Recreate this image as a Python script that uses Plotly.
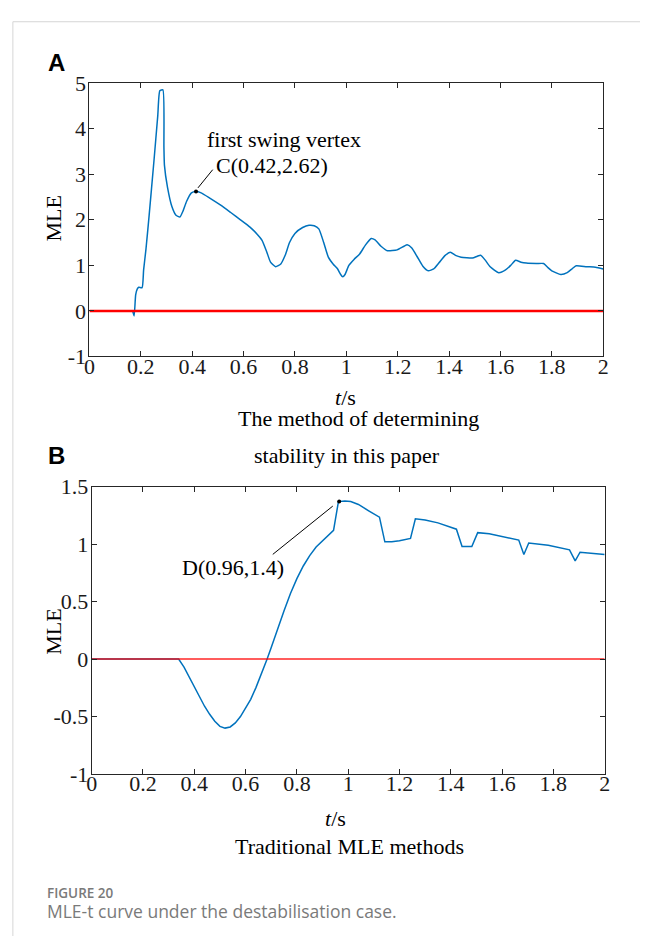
import plotly.graph_objects as go

# ---------------- data ----------------
# Panel A: proposed method (MLE vs t)
tA = [0.168, 0.174, 0.180, 0.186, 0.192, 0.205, 0.211, 0.220, 0.232, 0.251, 0.266, 0.274,
      0.286, 0.290, 0.292, 0.304, 0.321, 0.337, 0.352, 0.365, 0.378, 0.397, 0.415, 0.435,
      0.470, 0.511, 0.550, 0.588, 0.625, 0.652, 0.672, 0.690, 0.705, 0.725, 0.745, 0.762,
      0.779, 0.800, 0.830, 0.855, 0.875, 0.893, 0.912, 0.930, 0.950, 0.965, 0.978, 0.986,
      0.995, 1.010, 1.030, 1.052, 1.075, 1.097, 1.112, 1.135, 1.160, 1.198, 1.225, 1.237,
      1.255, 1.275, 1.298, 1.319, 1.340, 1.360, 1.385, 1.405, 1.425, 1.447, 1.491, 1.510,
      1.523, 1.540, 1.560, 1.593, 1.620, 1.640, 1.659, 1.680, 1.701, 1.740, 1.768, 1.785,
      1.800, 1.835, 1.860, 1.880, 1.895, 1.936, 1.970, 2.000]
mleA = [0.00, -0.11, 0.35, 0.48, 0.52, 0.51, 0.90, 1.35, 2.07, 3.28, 4.28, 4.83,
        4.85, 3.60, 3.20, 2.71, 2.29, 2.10, 2.06, 2.20, 2.40, 2.59, 2.62, 2.59,
        2.47, 2.32, 2.16, 2.00, 1.84, 1.69, 1.55, 1.30, 1.07, 0.97, 1.03, 1.22,
        1.50, 1.70, 1.83, 1.88, 1.87, 1.80, 1.50, 1.18, 1.02, 0.93, 0.80, 0.75,
        0.80, 1.00, 1.13, 1.25, 1.45, 1.59, 1.56, 1.42, 1.32, 1.34, 1.42, 1.45,
        1.38, 1.20, 0.98, 0.88, 0.92, 1.05, 1.22, 1.29, 1.22, 1.18, 1.16, 1.20,
        1.22, 1.12, 0.97, 0.84, 0.90, 1.00, 1.11, 1.07, 1.05, 1.04, 1.04, 0.95,
        0.88, 0.80, 0.84, 0.93, 0.99, 0.97, 0.96, 0.92]

# Panel B: traditional MLE method
tB = [0.000, 0.339, 0.360, 0.380, 0.400, 0.420, 0.440, 0.460, 0.480, 0.500, 0.520, 0.540,
      0.560, 0.580, 0.600, 0.620, 0.640, 0.660, 0.684, 0.700, 0.725, 0.750, 0.775, 0.800,
      0.825, 0.850, 0.875, 0.900, 0.925, 0.943, 0.962, 0.987, 1.010, 1.040, 1.080, 1.122,
      1.143, 1.170, 1.200, 1.243, 1.262, 1.300, 1.350, 1.422, 1.444, 1.482, 1.505, 1.550,
      1.665, 1.685, 1.704, 1.780, 1.863, 1.885, 1.904, 2.000]
mleB = [0.00, 0.00, -0.07, -0.155, -0.25, -0.33, -0.41, -0.48, -0.54, -0.585, -0.60, -0.59,
        -0.555, -0.50, -0.43, -0.35, -0.25, -0.14, 0.00, 0.10, 0.27, 0.42, 0.57, 0.70,
        0.81, 0.90, 0.975, 1.03, 1.08, 1.12, 1.37, 1.375, 1.37, 1.345, 1.29, 1.235,
        1.02, 1.02, 1.03, 1.05, 1.22, 1.21, 1.185, 1.13, 0.98, 0.98, 1.10, 1.09,
        1.035, 0.91, 1.01, 0.99, 0.95, 0.855, 0.93, 0.91]

zero_t = [0, 2]
zero_v = [0, 0]

# highlighted points and their leader lines
C_point = (0.415, 2.62)
D_point = (0.965, 1.37)
C_leader_t = [0.4225, 0.48]
C_leader_v = [2.70, 3.10]
D_leader_t = [0.706, 0.940]
D_leader_v = [0.911, 1.331]

x_ticks = [0, 0.2, 0.4, 0.6, 0.8, 1.0, 1.2, 1.4, 1.6, 1.8, 2.0]
x_labels = ["0", "0.2", "0.4", "0.6", "0.8", "1", "1.2", "1.4", "1.6", "1.8", "2"]
yA_ticks = [-1, 0, 1, 2, 3, 4, 5]
yA_labels = ["-1", "0", "1", "2", "3", "4", "5"]
yB_ticks = [-1, -0.5, 0, 0.5, 1, 1.5]
yB_labels = ["-1", "-0.5", "0", "0.5", "1", "1.5"]

# ---------------- figure ----------------
W, H = 646, 949


def px(x):
    return x / W


def py(y):
    return 1 - y / H


BLUE = "#0072BD"
RED = "#FF0000"
SERIF = "Liberation Serif, Times New Roman, serif"
SANS = "Liberation Sans, Arial, sans-serif"

fig = go.Figure()
fig.add_trace(go.Scatter(x=tA, y=mleA, mode="lines",
                         line=dict(color=BLUE, width=1.5, shape="spline", smoothing=0.5),
                         xaxis="x", yaxis="y", showlegend=False, hoverinfo="skip"))
fig.add_trace(go.Scatter(x=zero_t, y=zero_v, mode="lines", line=dict(color=RED, width=2.5),
                         xaxis="x", yaxis="y", showlegend=False, hoverinfo="skip"))
fig.add_trace(go.Scatter(x=C_leader_t, y=C_leader_v, mode="lines", line=dict(color="black", width=1),
                         xaxis="x", yaxis="y", showlegend=False, hoverinfo="skip"))
fig.add_trace(go.Scatter(x=[C_point[0]], y=[C_point[1]], mode="markers",
                         marker=dict(color="black", size=4), xaxis="x", yaxis="y",
                         showlegend=False, hoverinfo="skip"))

fig.add_trace(go.Scatter(x=tB, y=mleB, mode="lines", line=dict(color=BLUE, width=1.5),
                         xaxis="x2", yaxis="y2", showlegend=False, hoverinfo="skip"))
fig.add_trace(go.Scatter(x=zero_t, y=zero_v, mode="lines", line=dict(color=RED, width=1.5),
                         opacity=0.85, xaxis="x2", yaxis="y2", showlegend=False, hoverinfo="skip"))
fig.add_trace(go.Scatter(x=D_leader_t, y=D_leader_v, mode="lines", line=dict(color="black", width=1),
                         xaxis="x2", yaxis="y2", showlegend=False, hoverinfo="skip"))
fig.add_trace(go.Scatter(x=[D_point[0]], y=[D_point[1]], mode="markers",
                         marker=dict(color="black", size=4), xaxis="x2", yaxis="y2",
                         showlegend=False, hoverinfo="skip"))

axis_common = dict(showline=True, linecolor="#262626", linewidth=1, mirror="ticks",
                   ticks="inside", ticklen=5, tickcolor="#262626", tickwidth=1,
                   showgrid=False, zeroline=False,
                   tickfont=dict(family=SERIF, size=22, color="#1a1a1a"))

fig.update_layout(
    width=W, height=H, autosize=False,
    margin=dict(l=0, r=0, t=0, b=0),
    paper_bgcolor="white", plot_bgcolor="white",
    xaxis=dict(domain=[px(85), px(608.5)], anchor="y", range=[0, 2], ticklabelstandoff=-10,
               tickmode="array", tickvals=x_ticks, ticktext=x_labels, **axis_common),
    yaxis=dict(domain=[py(353.8), py(73)], anchor="x", range=[-1, 5], ticklabelstandoff=-2,
               tickmode="array", tickvals=yA_ticks, ticktext=yA_labels, **axis_common),
    xaxis2=dict(domain=[px(87.3), px(610)], anchor="y2", range=[0, 2], ticklabelstandoff=-10,
                tickmode="array", tickvals=x_ticks, ticktext=x_labels, **axis_common),
    yaxis2=dict(domain=[py(782.7), py(487.5)], anchor="x2", range=[-1, 1.5], ticklabelstandoff=-2,
                tickmode="array", tickvals=yB_ticks, ticktext=yB_labels, **axis_common),
)


def txt(x, y, s, size=22, family=SERIF, color="#000000", angle=0, xanchor="center", weight=None):
    f = dict(family=family, size=size, color=color)
    if weight is not None:
        f["weight"] = weight
    fig.add_annotation(x=px(x), y=py(y), xref="paper", yref="paper", text=s,
                       showarrow=False, xanchor=xanchor, yanchor="middle",
                       textangle=angle, font=f)


# panel letters
txt(51, 52, "<b>A</b>", size=24, family=SANS)
txt(51, 456, "<b>B</b>", size=24, family=SANS)
# y-axis titles
txt(48, 212, "MLE", angle=-90)
txt(48.5, 637, "MLE", angle=-90)
# x-axis titles and subtitles
txt(346, 396, "<i>t</i>/s")
txt(359, 418, "The method of determining")
txt(347, 455, "stability in this paper")
txt(336, 828, "<i>t</i>/s")
txt(350, 857, "Traditional MLE methods")
# in-plot labels
txt(283.5, 130.5, "first swing vertex")
txt(271.5, 157.5, "C(0.42,2.62)")
txt(231, 571, "D(0.96,1.4)")
# caption
txt(40, 905, "FIGURE 20", size=13.5, family="Open Sans, sans-serif", color="#7a7a7a",
    xanchor="left", weight=600)
txt(40, 923, "MLE-t curve under the destabilisation case.", size=17.5,
    family="Open Sans, sans-serif", color="#7a7a7a", xanchor="left")

# card border lines
fig.add_shape(type="line", xref="paper", yref="paper", x0=px(7), x1=1, y0=py(10), y1=py(10),
              line=dict(color="#d6d6d6", width=1))
fig.add_shape(type="line", xref="paper", yref="paper", x0=px(7), x1=px(7), y0=py(10), y1=0,
              line=dict(color="#d6d6d6", width=1))

fig.write_html("out.html", config={"displayModeBar": False},
               post_script="document.body.style.margin='0';document.body.style.overflow='hidden';")
